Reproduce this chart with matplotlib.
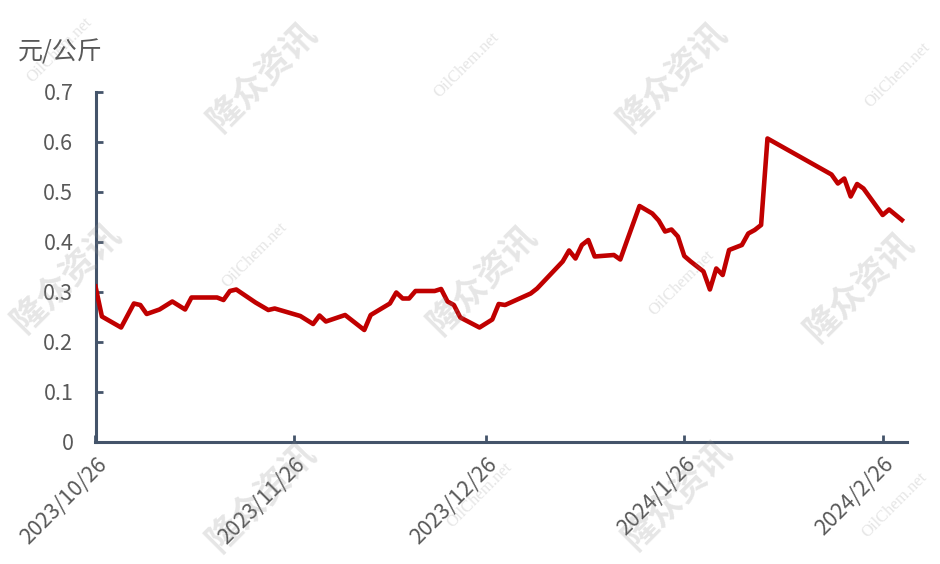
import matplotlib
matplotlib.use("Agg")
import matplotlib.pyplot as plt
import matplotlib.dates as mdates
import pandas as pd

plt.rcParams['font.family'] = ['Noto Sans CJK SC', 'DejaVu Sans']

dates = ["2023-10-26", "2023-10-27", "2023-10-30", "2023-11-01", "2023-11-02", "2023-11-03",
         "2023-11-05", "2023-11-07", "2023-11-09", "2023-11-10", "2023-11-14", "2023-11-15",
         "2023-11-16", "2023-11-17", "2023-11-20", "2023-11-22", "2023-11-23", "2023-11-27",
         "2023-11-29", "2023-11-30", "2023-12-01", "2023-12-04", "2023-12-07", "2023-12-08",
         "2023-12-11", "2023-12-12", "2023-12-13", "2023-12-14", "2023-12-15", "2023-12-18",
         "2023-12-19", "2023-12-20", "2023-12-21", "2023-12-22", "2023-12-25", "2023-12-27",
         "2023-12-28", "2023-12-29", "2024-01-02", "2024-01-03", "2024-01-05", "2024-01-07",
         "2024-01-08", "2024-01-09", "2024-01-10", "2024-01-11", "2024-01-12", "2024-01-15",
         "2024-01-16", "2024-01-17", "2024-01-19", "2024-01-21", "2024-01-22", "2024-01-23",
         "2024-01-24", "2024-01-25", "2024-01-26", "2024-01-27", "2024-01-29", "2024-01-30",
         "2024-01-31", "2024-02-01", "2024-02-02", "2024-02-04", "2024-02-05", "2024-02-06",
         "2024-02-07", "2024-02-08", "2024-02-18", "2024-02-19", "2024-02-20", "2024-02-21",
         "2024-02-22", "2024-02-23", "2024-02-26", "2024-02-27", "2024-02-29"]
values = [0.311, 0.251, 0.229, 0.277, 0.274, 0.256,
          0.265, 0.281, 0.265, 0.289, 0.289, 0.284,
          0.302, 0.305, 0.279, 0.264, 0.267, 0.252,
          0.236, 0.253, 0.241, 0.254, 0.224, 0.254,
          0.277, 0.299, 0.287, 0.287, 0.302, 0.302,
          0.306, 0.281, 0.274, 0.249, 0.229, 0.245,
          0.276, 0.274, 0.297, 0.307, 0.334, 0.361,
          0.383, 0.367, 0.394, 0.404, 0.371, 0.374,
          0.365, 0.401, 0.472, 0.457, 0.443, 0.421,
          0.425, 0.411, 0.372, 0.361, 0.341, 0.305,
          0.347, 0.334, 0.384, 0.394, 0.417, 0.424,
          0.434, 0.607, 0.535, 0.517, 0.527, 0.491,
          0.516, 0.507, 0.454, 0.465, 0.444]

x_ticks = ["2023-10-26", "2023-11-26", "2023-12-26", "2024-01-26", "2024-02-26"]
x_tick_labels = ["2023/10/26", "2023/11/26", "2023/12/26", "2024/1/26", "2024/2/26"]
y_ticks = [0, 0.1, 0.2, 0.3, 0.4, 0.5, 0.6, 0.7]
y_tick_labels = ["0", "0.1", "0.2", "0.3", "0.4", "0.5", "0.6", "0.7"]
unit_label = "元/公斤"

axis_color = "#44546A"
text_color = "#595959"
line_color = "#C00000"

fig = plt.figure(figsize=(9.4, 5.64), dpi=100)
ax = fig.add_axes([95.5 / 940, 1 - 442 / 564, (907 - 95.5) / 940, 350 / 564])
ax.patch.set_alpha(0)

x = pd.to_datetime(dates)
ax.plot(x, values, color=line_color, linewidth=3.3, solid_joinstyle='round', zorder=3)

start = pd.Timestamp("2023-10-26")
ax.set_xlim(start, start + pd.Timedelta(days=126.8))
ax.set_ylim(0, 0.7)

ax.set_xticks(pd.to_datetime(x_ticks))
ax.set_xticklabels(x_tick_labels, rotation=45, ha='right', va='top',
                   rotation_mode='anchor', fontsize=15.5, color=text_color)
ax.set_yticks(y_ticks)
ax.set_yticklabels(y_tick_labels, fontsize=15.5, color=text_color)

for s in ['top', 'right']:
    ax.spines[s].set_visible(False)
for s in ['left', 'bottom']:
    ax.spines[s].set_color(axis_color)
    ax.spines[s].set_linewidth(2.2)
ax.tick_params(axis='both', direction='in', length=5, width=2, color=axis_color)
ax.tick_params(axis='y', pad=16)
ax.tick_params(axis='x', pad=8)

fig.text(18 / 940, 1 - 52 / 564, unit_label, fontsize=18, color=text_color,
         ha='left', va='center')

# watermarks
wm_cn = [(263, 77), (673, 77), (67, 278), (483, 280), (860, 287), (262, 497), (678, 495)]
wm_en = [(467, 65), (898, 75), (60, 50), (255, 255), (682, 283), (480, 495), (895, 505)]
for (px, py) in wm_cn:
    fig.text(px / 940, 1 - py / 564, "隆众资讯", fontsize=25, fontweight='bold',
             color="#8c8c8c", alpha=0.22, rotation=45, ha='center', va='center',
             style='italic', zorder=10)
for (px, py) in wm_en:
    fig.text(px / 940, 1 - py / 564, "OilChem.net", fontsize=12,
             family='Liberation Serif', color="#9c9c9c", alpha=0.25, rotation=45,
             ha='center', va='center', zorder=10)

fig.savefig("out.png", dpi=100)
